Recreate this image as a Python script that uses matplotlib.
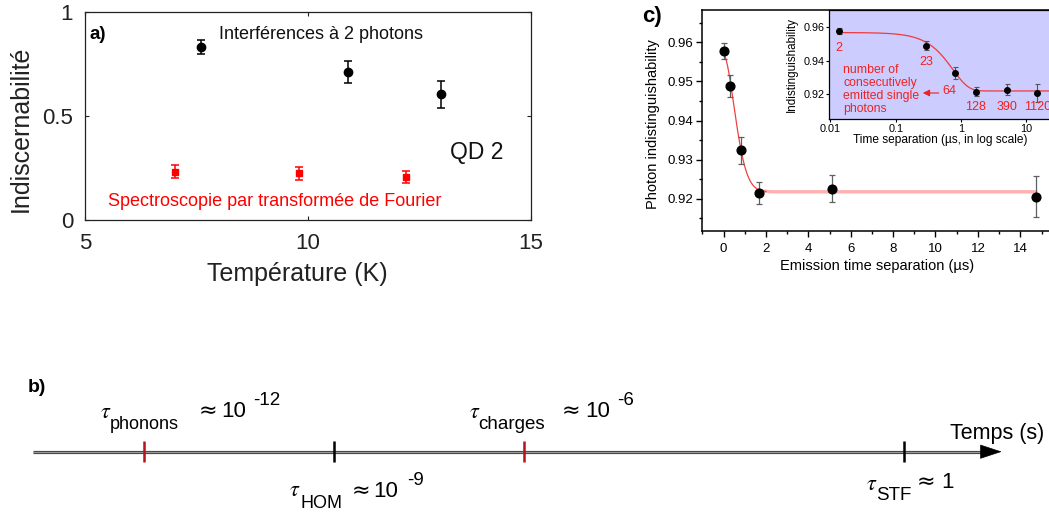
import numpy as np
import matplotlib
matplotlib.use("Agg")
import matplotlib.pyplot as plt
from matplotlib.ticker import MultipleLocator, NullLocator, FixedLocator

plt.rcParams['font.family'] = ['Liberation Sans', 'DejaVu Sans']
plt.rcParams['mathtext.fontset'] = 'stix'

# ---------------- data ----------------
# panel a
temp_hom = [7.59, 10.90, 12.99]
indist_hom = [0.831, 0.711, 0.601]
err_hom = [0.034, 0.053, 0.065]
temp_ftir = [7.01, 9.80, 12.20]
indist_ftir = [0.230, 0.222, 0.203]
err_ftir = [0.030, 0.030, 0.029]

# panel c
sep_us = [0.0137, 0.29, 0.82, 1.67, 5.11, 14.73]
indist_c = [0.9577, 0.9488, 0.9324, 0.9214, 0.9226, 0.9206]
err_c = [0.0020, 0.0027, 0.0035, 0.0028, 0.0035, 0.0052]
photon_counts = ['2', '23', '64', '128', '390', '1120']
# stretched-exponential fit parameters
fit_plateau = 0.9218
fit_amp = 0.0350
fit_tau = 0.75
fit_beta = 1.8

# panel b (time scales, log10 of seconds)
scale_exp = [-12, -9, -6, 0]
scale_name = ['phonons', 'HOM', 'charges', 'STF']
scale_color = ['#b5121b', 'black', '#b5121b', 'black']


def fit(t):
    t = np.asarray(t)
    return fit_plateau + fit_amp * np.exp(-(t / fit_tau) ** fit_beta)


W, H = 1049, 516
fig = plt.figure(figsize=(W / 100, H / 100), dpi=100)


def ax_rect(left, top, right, bottom):
    return [left / W, 1 - bottom / H, (right - left) / W, (bottom - top) / H]


def ptext(x, y, s, **kw):
    kw.setdefault('ha', 'left')
    kw.setdefault('va', 'baseline')
    return fig.text(x / W, 1 - y / H, s, **kw)


# ---------------- panel a ----------------
ax_a = fig.add_axes(ax_rect(85, 11.5, 531, 219.5))
ax_a.errorbar(temp_hom, indist_hom, yerr=err_hom, fmt='o', color='black',
              ms=6, capsize=3.2, elinewidth=1.1, capthick=1.1)
ax_a.errorbar(temp_ftir, indist_ftir, yerr=err_ftir, fmt='s', color='#ff0000',
              ms=5, capsize=3.2, elinewidth=1.1, capthick=1.1)
ax_a.set_xlim(5, 15)
ax_a.set_ylim(0, 1)
ax_a.set_xticks([5, 10, 15])
ax_a.set_xticklabels(['5', '10', '15'])
ax_a.set_yticks([0, 0.5, 1])
ax_a.set_yticklabels(['0', '0.5', '1'])
ax_a.tick_params(direction='in', top=True, right=True, length=3, width=0.8,
                 labelsize=16, colors='#222222')
ax_a.tick_params(axis='x', pad=9.5)
ax_a.tick_params(axis='y', pad=8.5)
for s in ax_a.spines.values():
    s.set_linewidth(0.9)
    s.set_color('#222222')

ptext(90, 39, 'a)', fontsize=13.5, fontweight='bold')
ptext(219, 39.3, 'Interférences à 2 photons', fontsize=13, color='#111111')
ptext(449.7, 159.3, 'QD 2', fontsize=16.5, color='#111111')
ptext(108, 206, 'Spectroscopie par transformée de Fourier', fontsize=13,
      color='#ff0000')
ptext(297, 281, 'Température (K)', fontsize=18, ha='center', color='#222222')
ptext(20.6, 128.5, 'Indiscernabilité', fontsize=18, ha='center', va='center',
      rotation=90, color='#222222')

# ---------------- panel c (main) ----------------
ax_c = fig.add_axes(ax_rect(702.3, 10, 1062.7, 231))
t_fit = np.linspace(0, 2.0, 200)
ax_c.plot(t_fit, fit(t_fit), color='#f04040', lw=0.9, zorder=2)
t_plat = np.linspace(1.9, sep_us[-1], 50)
ax_c.plot(t_plat, fit(t_plat), color='#ffb0b0', lw=2.4, zorder=1)
ax_c.errorbar(sep_us, indist_c, yerr=err_c, fmt='o', color='black', ms=6.3,
              ecolor='#606060', elinewidth=0.9, capsize=2.4, capthick=0.9,
              zorder=3)
ax_c.set_xlim(-1, 16)
ax_c.set_ylim(0.9118, 0.9682)
ax_c.xaxis.set_major_locator(FixedLocator([0, 2, 4, 6, 8, 10, 12, 14]))
ax_c.xaxis.set_minor_locator(MultipleLocator(1))
ax_c.yaxis.set_major_locator(FixedLocator([0.92, 0.93, 0.94, 0.95, 0.96]))
ax_c.yaxis.set_minor_locator(MultipleLocator(0.005))
ax_c.set_yticklabels(['0.92', '0.93', '0.94', '0.95', '0.96'])
ax_c.tick_params(which='major', direction='out', length=4.3, width=1.0,
                 labelsize=9.5)
ax_c.tick_params(which='minor', direction='out', length=2.2, width=1.0)
ax_c.tick_params(axis='y', pad=2.0)
ax_c.tick_params(axis='x', pad=4.0)
for s in ax_c.spines.values():
    s.set_linewidth(1.1)

ptext(642.5, 22, 'c)', fontsize=16, fontweight='bold')
ptext(652.5, 124, 'Photon indistinguishability', fontsize=10.5, ha='center',
      va='center', rotation=90)
ptext(877.5, 270, 'Emission time separation (µs)', fontsize=10.5, ha='center')

# ---------------- panel c (inset) ----------------
ax_i = fig.add_axes(ax_rect(829, 10, 1057.5, 119), zorder=5)
ax_i.set_facecolor('#ccccff')
t_log = np.logspace(np.log10(sep_us[0]), np.log10(25), 300)
ax_i.plot(t_log, fit(t_log), color='#f03a3a', lw=0.9, zorder=2)
ax_i.errorbar(sep_us, indist_c, yerr=err_c, fmt='o', color='black', ms=4,
              ecolor='#555555', elinewidth=0.8, capsize=1.8, capthick=0.8,
              zorder=3)
ax_i.set_xscale('log')
ax_i.set_xlim(0.00953, 30)
ax_i.set_ylim(0.905, 0.9703)
ax_i.xaxis.set_major_locator(FixedLocator([0.01, 0.1, 1, 10]))
ax_i.xaxis.set_minor_locator(NullLocator())
ax_i.set_xticklabels(['0.01', '0.1', '1', '10'])
ax_i.yaxis.set_major_locator(FixedLocator([0.92, 0.94, 0.96]))
ax_i.yaxis.set_minor_locator(NullLocator())
ax_i.set_yticklabels(['0.92', '0.94', '0.96'])
ax_i.tick_params(direction='out', length=2.2, width=0.8, labelsize=7.8, pad=1.2)
for s in ax_i.spines.values():
    s.set_linewidth(0.9)

label_offsets = [(0, -17), (0, -16), (-6, -18), (0, -15), (0, -17), (0, -14)]
for xv, yv, lab, off in zip(sep_us, indist_c, photon_counts, label_offsets):
    ax_i.annotate(lab, xy=(xv, yv), xytext=off, textcoords='offset pixels',
                  ha='center', va='center', fontsize=9, color='#ee2222',
                  annotation_clip=False)

ptext(843.3, 64, 'number of\nconsecutively\nemitted single\nphotons',
      fontsize=8.8, color='#ee2222', va='top', linespacing=1.12, zorder=6)
fig.add_artist(matplotlib.patches.FancyArrowPatch(
    (941.5 / W, 1 - 93 / H), (920 / W, 1 - 93 / H),
    transform=fig.transFigure, arrowstyle='-|>,head_length=4,head_width=2',
    color='#ee2222', lw=0.8, zorder=7))
ptext(792, 64, 'Indistinguishability', fontsize=8.4, ha='center', va='center',
      rotation=90)
ptext(940.5, 142.5, 'Time separation (µs, in log scale)', fontsize=8.6,
      ha='center')

# ---------------- panel b ----------------
ax_b = fig.add_axes([0, 0, 1, 146 / H])
ax_b.set_xlim(-12 - 144.3 / 63.28, -12 + (W - 144.3) / 63.28)
ax_b.set_ylim(146, 0)
ax_b.axis('off')
line_y = 81.7
x_start = -12 - (144.3 - 33.3) / 63.28
x_tip = -12 + (1001.7 - 144.3) / 63.28
x_head = x_tip - 20 / 63.28
ax_b.plot([x_start, x_head + 0.05], [line_y, line_y], color='#4a4a4a', lw=2.3,
          solid_capstyle='butt', zorder=1)
ax_b.plot([x_start, x_head + 0.05], [line_y, line_y], color='#a8a8a8', lw=0.6,
          solid_capstyle='butt', zorder=1)
ax_b.annotate('', xy=(x_tip, line_y), xytext=(x_head, line_y),
              arrowprops=dict(arrowstyle='-|>,head_length=1.0,head_width=0.33',
                              mutation_scale=14.4, color='black', lw=0.5,
                              shrinkA=0, shrinkB=0))
ax_b.vlines(scale_exp, line_y - 10.5, line_y + 10.5, colors=scale_color,
            lw=1.8, zorder=2)

ptext(28, 392, 'b)', fontsize=14, fontweight='bold')

# phonons
ptext(100, 418.3, r'$\tau$', fontsize=16)
ptext(109.3, 429.3, scale_name[0], fontsize=13)
ptext(198.3, 417.3, '≈', fontsize=16, family='DejaVu Sans')
ptext(221.7, 417.3, '10', fontsize=16)
ptext(253.3, 405, '-12', fontsize=13.5)
# HOM
ptext(289.3, 496, r'$\tau$', fontsize=16)
ptext(301, 508.3, scale_name[1], fontsize=13)
ptext(351.7, 496.7, '≈', fontsize=16, family='DejaVu Sans')
ptext(373.3, 496.7, '10', fontsize=16)
ptext(406.7, 485, '-9', fontsize=13.5)
# charges
ptext(469, 418.3, r'$\tau$', fontsize=16)
ptext(478.3, 429.3, scale_name[2], fontsize=13.5)
ptext(561.7, 417.3, '≈', fontsize=16, family='DejaVu Sans')
ptext(585, 417.3, '10', fontsize=16)
ptext(616.7, 405, '-6', fontsize=13.5)
# STF
ptext(865.7, 490, r'$\tau$', fontsize=16)
ptext(876, 500, scale_name[3], fontsize=13.5)
ptext(916.7, 488.3, '≈', fontsize=16, family='DejaVu Sans')
ptext(941.7, 488.3, '1', fontsize=16)

ptext(950, 439.3, 'Temps (s)', fontsize=15.5)

fig.savefig('out.png', dpi=100)
